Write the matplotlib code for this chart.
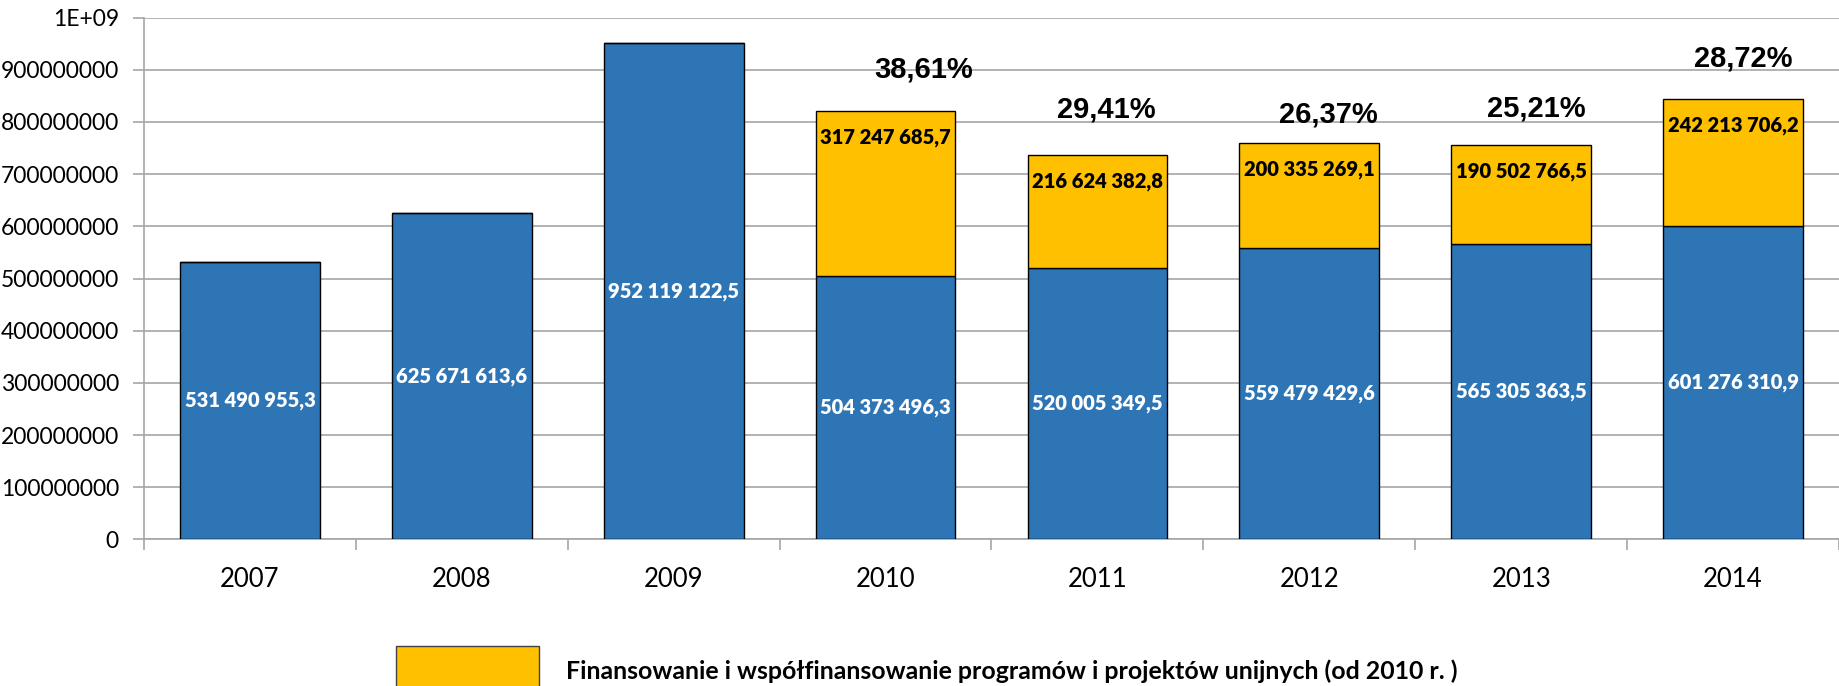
import matplotlib
matplotlib.use("Agg")
import matplotlib.pyplot as plt
from matplotlib.ticker import FuncFormatter, MultipleLocator
from matplotlib.patches import Patch

years = ["2007", "2008", "2009", "2010", "2011", "2012", "2013", "2014"]
base_values = [531490955.3, 625671613.6, 952119122.5, 504373496.3,
               520005349.5, 559479429.6, 565305363.5, 601276310.9]
eu_values = [0, 0, 0, 317247685.7, 216624382.8, 200335269.1, 190502766.5, 242213706.2]
base_labels = ["531 490 955,3", "625 671 613,6", "952 119 122,5", "504 373 496,3",
               "520 005 349,5", "559 479 429,6", "565 305 363,5", "601 276 310,9"]
eu_labels = ["", "", "", "317 247 685,7", "216 624 382,8", "200 335 269,1",
             "190 502 766,5", "242 213 706,2"]
pct_labels = ["", "", "", "38,61%", "29,41%", "26,37%", "25,21%", "28,72%"]
pct_label_y = [None, None, None, 901e6, 823e6, 815e6, 826e6, 922e6]
pct_label_dx = [0, 0, 0, 0.18, 0.04, 0.09, 0.07, 0.05]
legend_label = "Finansowanie i współfinansowanie programów i projektów unijnych (od 2010 r. )"

BLUE = "#2E75B6"
YELLOW = "#FFC000"
GRID = "#A6A6A6"

fig = plt.figure(figsize=(18.39, 6.86), dpi=100)
ax = fig.add_axes([0.0783, 0.2136, 0.9217, 0.7607])

x = list(range(len(years)))
w = 0.66
ax.bar(x, base_values, width=w, color=BLUE, edgecolor="black", linewidth=1.0, zorder=3)
ax.bar(x, eu_values, width=w, bottom=base_values, color=YELLOW, edgecolor="black",
       linewidth=1.0, zorder=3)

for i in x:
    ax.text(i, base_values[i] / 2, base_labels[i], ha="center", va="center",
            color="white", fontsize=14.5, fontweight="heavy", family="Lato", zorder=4)
    if eu_values[i] > 0:
        top = base_values[i] + eu_values[i]
        ax.annotate(eu_labels[i], (i, top), xytext=(0, -19), textcoords="offset points",
                    ha="center", va="center", color="black", fontsize=14.5,
                    fontweight="heavy", family="Lato", zorder=4)
    if pct_labels[i]:
        ax.text(i + pct_label_dx[i], pct_label_y[i], pct_labels[i], ha="center", va="center",
                fontsize=21, fontweight="bold", family="Liberation Sans", color="black",
                zorder=4)

ax.set_xlim(-0.5, 7.5)
ax.set_ylim(0, 1e9)
ax.yaxis.set_major_locator(MultipleLocator(1e8))


def yfmt(v, pos):
    if v >= 1e9:
        return "1E+09"
    return f"{int(round(v))}"


ax.yaxis.set_major_formatter(FuncFormatter(yfmt))
ax.set_xticks(x)
ax.set_xticklabels(years)
ax.set_xticks([i - 0.5 for i in range(len(years) + 1)], minor=True)
ax.tick_params(axis="x", which="major", length=0, pad=20, labelsize=18.5)
ax.tick_params(axis="x", which="minor", length=8, color=GRID, width=1.2, direction="out")
ax.tick_params(axis="y", length=8, color=GRID, width=1.2, pad=10, labelsize=16.5)
for lab in ax.get_xticklabels() + ax.get_yticklabels():
    lab.set_family("Lato")

ax.grid(axis="y", color=GRID, linewidth=1.2, zorder=0)
ax.set_axisbelow(True)
for s in ["top", "right"]:
    ax.spines[s].set_visible(False)
ax.spines["left"].set_color(GRID)
ax.spines["left"].set_linewidth(1.2)
ax.spines["bottom"].set_color(GRID)
ax.spines["bottom"].set_linewidth(1.2)

handle = Patch(facecolor=YELLOW, edgecolor="#404040", linewidth=1.0)
fig.legend([handle], [legend_label], loc="center left", bbox_to_anchor=(0.2153, 0.0204),
           frameon=False, borderpad=0, borderaxespad=0, handlelength=5.75, handleheight=2.8,
           handletextpad=1.08, prop={"family": "Lato", "weight": "bold", "size": 17.9})

fig.savefig("out.png", dpi=100)
